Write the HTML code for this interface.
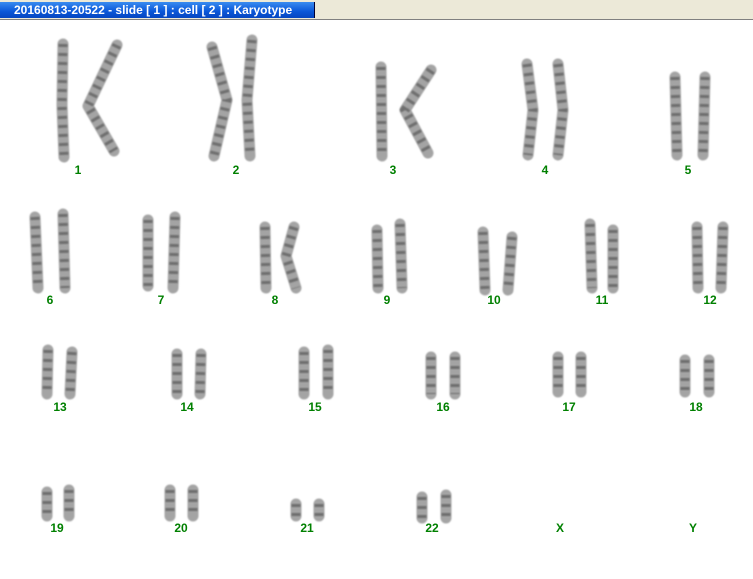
<!DOCTYPE html>
<html><head><meta charset="utf-8"><style>
html,body{margin:0;padding:0;width:753px;height:579px;overflow:hidden;background:#fff;font-family:"Liberation Sans",sans-serif}
#top{position:absolute;left:0;top:0;width:753px;height:19px;background:#ece9d8;border-bottom:1px solid #808080}
#title{position:absolute;left:0;top:2px;width:315px;height:16px;background:linear-gradient(#3a8cf0,#0a56d8 60%,#0646c0);color:#fff;font-size:12px;font-weight:bold;line-height:16px;padding-left:14px;box-sizing:border-box;border-right:1px solid #003}
svg{position:absolute;left:0;top:0}
.c{fill:none;stroke:#a4a4a4;stroke-width:11;stroke-linecap:round;stroke-linejoin:round;filter:url(#bl)}
.b{fill:none;stroke:#444;stroke-width:9;stroke-dasharray:3 6;opacity:.55;filter:url(#bl)}
text{fill:#008000;font-weight:bold;font-size:12px;font-family:"Liberation Sans",sans-serif;text-anchor:middle}
</style></head><body>
<div id="top"><div id="title">20160813-20522 - slide [ 1 ] : cell [ 2 ] : Karyotype</div></div>
<svg width="753" height="579" id="s"></svg>
<script>
var P=[
["M63 44 L62 105 L64 157","M117 45 L88 106 L114 151",78,174],
["M212 47 L227 100 L214 156","M252 40 L247 100 L250 156",236,174],
["M381 67 L382 156","M431 70 L405 110 L428 153",393,174],
["M527 64 L533 110 L528 155","M558 64 L563 110 L558 155",545,174],
["M675 77 L677 155","M705 77 L703 155",688,174],
["M35 217 L38 288","M63 214 L65 288",50,304],
["M148 220 L148 286","M175 217 L173 288",161,304],
["M265 227 L266 288","M294 227 L286 256 L296 288",275,304],
["M377 230 L378 288","M400 224 L402 288",387,304],
["M483 232 L485 290","M512 237 L508 290",494,304],
["M590 224 L592 288","M613 230 L613 288",602,304],
["M697 227 L698 288","M723 227 L721 288",710,304],
["M48 350 L47 394","M72 352 L70 394",60,411],
["M177 354 L177 394","M201 354 L200 394",187,411],
["M304 352 L304 394","M328 350 L328 394",315,411],
["M431 357 L431 394","M455 357 L455 394",443,411],
["M558 357 L558 392","M581 357 L581 392",569,411],
["M685 360 L685 392","M709 360 L709 392",696,411],
["M47 492 L47 516","M69 490 L69 516",57,532],
["M170 490 L170 516","M193 490 L193 516",181,532],
["M296 504 L296 516","M319 504 L319 516",307,532],
["M422 497 L422 518","M446 495 L446 518",432,532]
];
var h='<defs><filter id="bl" filterUnits="userSpaceOnUse" x="0" y="0" width="753" height="579"><feGaussianBlur stdDeviation="0.8"/></filter></defs>';
P.forEach(function(p,i){
 [p[0],p[1]].forEach(function(d){h+='<path class="c" d="'+d+'"/><path class="b" d="'+d+'"/>';});
 h+='<text x="'+p[2]+'" y="'+p[3]+'">'+(i+1)+'</text>';
});
h+='<text x="560" y="532">X</text><text x="693" y="532">Y</text>';
document.getElementById("s").innerHTML=h;
</script>
</body></html>
